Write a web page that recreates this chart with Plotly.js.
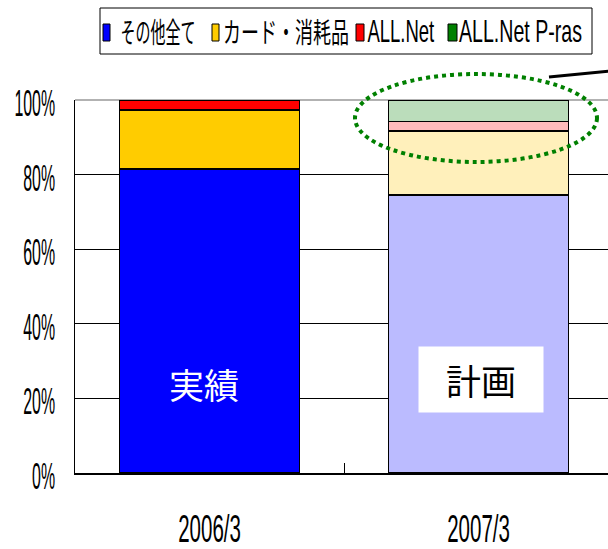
<!DOCTYPE html>
<html>
<head>
<meta charset="utf-8">
<script src="https://cdn.plot.ly/plotly-3.0.1.min.js"></script>
<style>html,body{margin:0;padding:0;background:#fff;}#chart{width:608px;height:549px;}</style>
</head>
<body>
<div id="chart"></div>
<script>
// ---- data ----
const categories = ['2006/3', '2007/3'];
const seriesNames = ['その他全て', 'カード・消耗品', 'ALL.Net', 'ALL.Net P-ras'];
const otherAll = [81.5, 74.5];
const cardSupplies = [15.8, 17.2];
const allNet = [2.7, 2.5];
const allNetPras = [0, 5.8];
const barLabels = ['実績', '計画'];
const yTicks = [0, 20, 40, 60, 80, 100];
const yTickText = ['0%', '20%', '40%', '60%', '80%', '100%'];

// ---- styles ----
const actualColors = ['#0000FF', '#FFCC00', '#FF0000', '#008000'];
const planColors = ['#BBBBFF', '#FFF0BB', '#FFBBBB', '#BBDDBB'];
const seriesValues = [otherAll, cardSupplies, allNet, allNetPras];

const sans = '"Liberation Sans", Arial, sans-serif';
const cjk = '"Noto Sans CJK JP", sans-serif';

const traces = seriesValues.map((vals, i) => ({
  type: 'bar',
  name: seriesNames[i],
  x: categories,
  y: vals,
  width: 0.67,
  showlegend: false,
  marker: {
    color: [actualColors[i], planColors[i]],
    line: {color: '#000', width: 1.5}
  },
  hoverinfo: 'skip'
}));

// plot-area geometry helpers (pixel -> paper) for decoration
const L = 75, T = 100, W = 533, H = 373;
const px = v => (v - L) / W;
const py = v => (T + H - v) / H;

// manual legend (horizontally condensed like the original)
const legendSq = [[103, 110], [212, 219], [356, 364], [448, 457]];
const legendTxt = [[120, 195], [223, 349], [367, 434], [459, 582]];
const legendFont = [
  {family: cjk, size: 28}, {family: cjk, size: 28},
  {family: sans, size: 32}, {family: sans, size: 32}
];
const shapes = [
  {type: 'rect', xref: 'paper', yref: 'paper', x0: px(100), x1: px(592), y0: py(8), y1: py(54),
   line: {color: '#000', width: 1}, fillcolor: '#fff', layer: 'above'},
  {type: 'line', xref: 'paper', yref: 'paper', x0: 0, x1: 1, y0: 1, y1: 1,
   line: {color: '#999', width: 1.5}, layer: 'below'},
  {type: 'circle', xref: 'paper', yref: 'paper', x0: px(355), x1: px(597), y0: py(162), y1: py(74),
   line: {color: '#008000', width: 4, dash: 'dot'}, layer: 'above'},
  {type: 'line', xref: 'paper', yref: 'paper', x0: px(549), x1: px(610), y0: py(77), y1: py(71),
   line: {color: '#000', width: 3}, layer: 'above'}
];
legendSq.forEach((s, i) => {
  shapes.push({type: 'rect', xref: 'paper', yref: 'paper', x0: px(s[0]), x1: px(s[1]), y0: py(41), y1: py(24),
    fillcolor: actualColors[i], line: {color: '#000', width: 1}, layer: 'above'});
});
const annotations = seriesNames.map((n, i) => ({
  xref: 'paper', yref: 'paper', x: px((legendTxt[i][0] + legendTxt[i][1]) / 2), y: py(31),
  xanchor: 'center', yanchor: 'middle',
  text: n, showarrow: false, font: Object.assign({color: '#000'}, legendFont[i])
}));
annotations.push({
  x: categories[0], y: 24.1, xref: 'x', yref: 'y', xshift: -6, text: barLabels[0], showarrow: false,
  font: {family: cjk, size: 35, color: '#fff'}
});
annotations.push({
  x: categories[1], y: 25.1, xref: 'x', yref: 'y', xshift: 2, text: barLabels[1], showarrow: false,
  width: 124, height: 65, borderpad: 0, bgcolor: '#fff',
  font: {family: cjk, size: 35, color: '#000'}
});

const layout = {
  width: 608, height: 549,
  margin: {l: L, r: 0, t: T, b: 549 - T - H},
  paper_bgcolor: '#fff', plot_bgcolor: '#fff',
  barmode: 'stack',
  showlegend: false,
  xaxis: {
    type: 'category', range: [-0.5, 1.481],
    tickson: 'boundaries', ticks: 'inside', ticklen: 10, tickcolor: '#000', tickwidth: 1,
    showgrid: false, showline: true, linecolor: '#000', linewidth: 1.5,
    ticklabelstandoff: 22,
    tickfont: {family: sans, size: 38, color: '#000'}
  },
  yaxis: {
    range: [0, 100], tickmode: 'array', tickvals: yTicks, ticktext: yTickText,
    ticks: 'inside', ticklen: 7, tickcolor: '#000',
    showgrid: true, gridcolor: '#000', gridwidth: 1,
    showline: true, linecolor: '#000', linewidth: 1.5, zeroline: false,
    ticklabelstandoff: 11, ticklabelshift: 3,
    tickfont: {family: sans, size: 37, color: '#000'}
  },
  shapes: shapes,
  annotations: annotations
};

// condense a text element horizontally around an anchor (0=left, 0.5=center, 1=right)
function condense(el, scale, anchor) {
  const b = el.getBBox();
  const cx = b.x + b.width * anchor;
  const prev = el.getAttribute('transform') || '';
  el.setAttribute('transform', prev + ` translate(${cx},0) scale(${scale},1) translate(${-cx},0)`);
}

Plotly.newPlot('chart', traces, layout, {staticPlot: true, displayModeBar: false}).then(gd => {
  gd.querySelectorAll('.ytick text').forEach(t => condense(t, 0.43, 1));
  gd.querySelectorAll('.xtick text').forEach(t => condense(t, 0.54, 0.5));
  gd.querySelectorAll('.annotation-text-g').forEach(g => {
    const t = g.querySelector('.annotation-text');
    if (!t) return;
    const idx = seriesNames.indexOf(t.textContent);
    if (idx < 0) return;
    const target = legendTxt[idx][1] - legendTxt[idx][0];
    const oldW = t.getBBox().width;
    condense(t, target / oldW, 0.5);
    const bg = g.querySelector('rect.bg');
    if (bg) {
      const bw = parseFloat(bg.getAttribute('width')) || oldW;
      const bx = parseFloat(bg.getAttribute('x')) || 0;
      const nw = Math.max(1, bw - (oldW - target));
      bg.setAttribute('x', bx + (bw - nw) / 2);
      bg.setAttribute('width', nw);
    }
  });
});
</script>
</body>
</html>
